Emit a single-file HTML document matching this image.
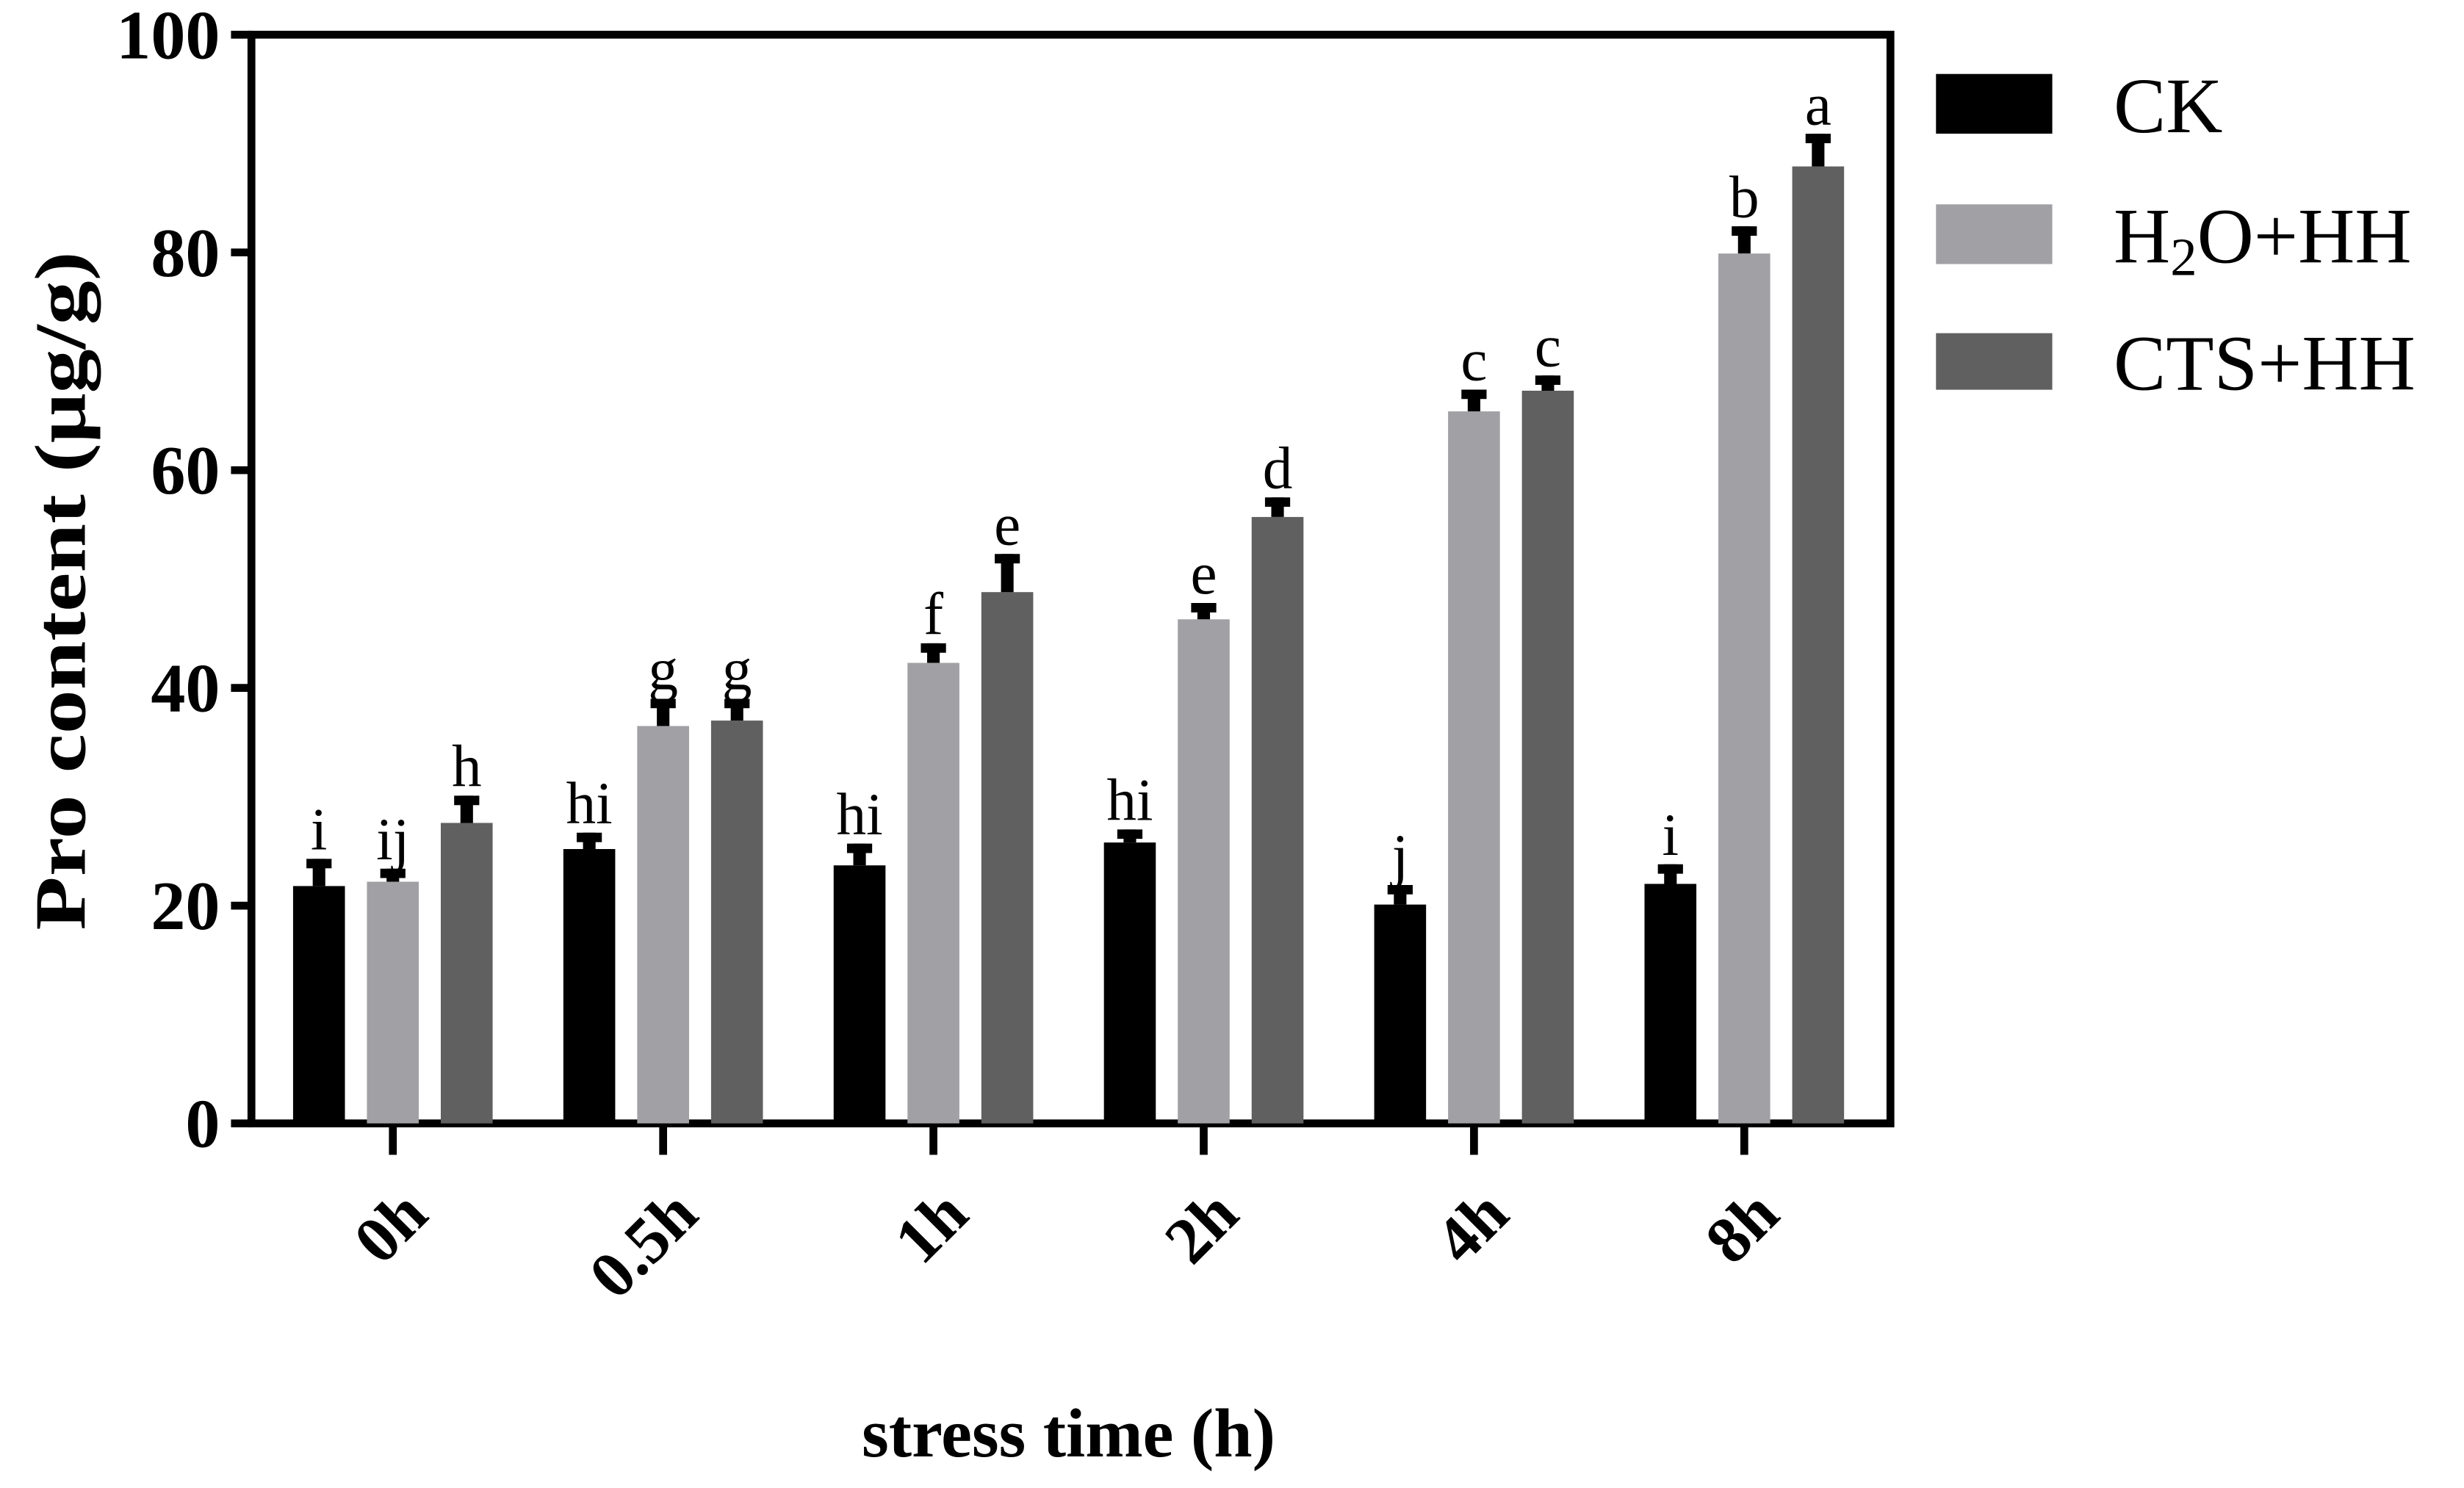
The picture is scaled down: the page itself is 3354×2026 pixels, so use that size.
<!DOCTYPE html>
<html><head><meta charset="utf-8"><style>
html,body{margin:0;padding:0;background:#fff}
svg{display:block}
text{font-family:"Liberation Serif",serif}
</style></head><body>
<svg id="chart" width="3354" height="2026" viewBox="0 0 1568 947" xmlns="http://www.w3.org/2000/svg">
<g id="axes"></g>
<g id="bars"></g>
<g id="legend">
 <rect x="1232" y="47" width="74" height="38" fill="#000"/>
 <text x="1345" y="84" font-size="50">CK</text>
 <rect x="1232" y="130" width="74" height="38" fill="#a1a0a4"/>
 <text x="1345" y="167" font-size="50">H<tspan font-size="34" dy="8">2</tspan><tspan dy="-8">O+HH</tspan></text>
 <rect x="1232" y="212" width="74" height="36" fill="#606060"/>
 <text x="1345" y="248" font-size="50">CTS+HH</text>
</g>
<text transform="translate(54,376) rotate(-90)" text-anchor="middle" font-size="46" font-weight="bold" textLength="432" lengthAdjust="spacingAndGlyphs">Pro content (μg/g)</text>
<text x="680" y="927" text-anchor="middle" font-size="44" font-weight="bold">stress time (h)</text>
</svg>
<script>
const categories = ["0h","0.5h","1h","2h","4h","8h"];
const seriesNames = ["CK","H2O+HH","CTS+HH"];
const ckValues = [21.8, 25.2, 23.7, 25.8, 20.1, 22.0];
const h2oValues = [22.2, 36.5, 42.3, 46.3, 65.4, 79.9];
const ctsValues = [27.6, 37.0, 48.8, 55.7, 67.3, 87.9];
const ckErr = [2.5, 1.5, 2.0, 1.2, 1.8, 1.8];
const h2oErr = [1.2, 2.5, 1.8, 1.5, 2.0, 2.5];
const ctsErr = [2.5, 2.0, 3.5, 1.8, 1.4, 3.0];
const ckLetters = ["i","hi","hi","hi","j","i"];
const h2oLetters = ["ij","g","f","e","c","b"];
const ctsLetters = ["h","g","e","d","c","a"];
const yTicks = [0,20,40,60,80,100];

const NS = "http://www.w3.org/2000/svg";
const L=160,R=1203,T=22,B=715;
const y = v => B - (v/100)*(B-T);
const xc = i => 250 + i*172;
function mk(tag, attrs, parent){const e=document.createElementNS(NS,tag);for(const k in attrs)e.setAttribute(k,attrs[k]);parent.appendChild(e);return e;}
const axes=document.getElementById('axes'), bars=document.getElementById('bars');

let frame=mk('rect',{x:L,y:T,width:R-L,height:B-T,fill:'none',stroke:'#000','stroke-width':5},axes);


yTicks.forEach(v=>{
  const t=mk('line',{x1:L-13,x2:L,y1:y(v),y2:y(v),stroke:'#000','stroke-width':5},axes);
  
  
  const tx=mk('text',{x:L-20,y:y(v)+15,'text-anchor':'end','font-size':44,'font-weight':'bold'},axes);
  tx.textContent=v;
  
  
});
categories.forEach((c,i)=>{
  const t=mk('line',{x1:xc(i),x2:xc(i),y1:B,y2:B+20,stroke:'#000','stroke-width':5},axes);
  
  
  const tx=mk('text',{transform:`translate(${xc(i)+24},${B+60}) rotate(-45)`,'text-anchor':'end','font-size':42,'font-weight':'bold'},axes);
  tx.textContent=c;
  
  
});
const series=[[ckValues,ckErr,ckLetters,'#000'],[h2oValues,h2oErr,h2oLetters,'#a1a0a4'],[ctsValues,ctsErr,ctsLetters,'#606060']];
const bw=33, pitch=47;
series.forEach((s,si)=>{
  categories.forEach((c,i)=>{
    const cx=xc(i)+(si-1)*pitch;
    const v=s[0][i], e=s[1][i];
    const r=mk('rect',{x:cx-bw/2,y:y(v),width:bw,height:B-y(v),fill:s[3]},bars);
    
    
    const eb=mk('line',{x1:cx,x2:cx,y1:y(v),y2:y(v+e),stroke:'#000','stroke-width':8},bars);
    
    
    const cap=mk('line',{x1:cx-8,x2:cx+8,y1:y(v+e)+3,y2:y(v+e)+3,stroke:'#000','stroke-width':6},bars);
    
    
    const lt=mk('text',{x:cx,y:y(v+e)-6,'text-anchor':'middle','font-size':38},bars);
    lt.textContent=s[2][i];
    
    
  });
});
</script>
</body></html>
